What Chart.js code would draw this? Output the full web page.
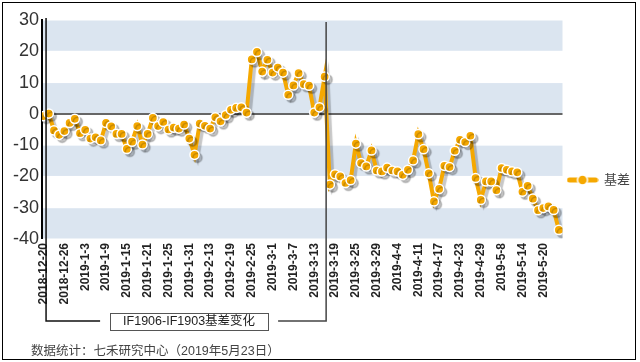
<!DOCTYPE html>
<html><head><meta charset="utf-8">
<style>html,body{margin:0;padding:0;background:#fff}#wrap{width:640px;height:362px}</style>
<script src="https://cdn.jsdelivr.net/npm/chart.js@4.4.0/dist/chart.umd.min.js"></script>
</head><body><div id="wrap"><canvas id="c" width="640" height="362"></canvas></div>
<script>
const dates = [
 '2018-12-20','2018-12-21','2018-12-24','2018-12-25','2018-12-26','2018-12-27','2018-12-28',
 '2019-1-2','2019-1-3','2019-1-4','2019-1-7','2019-1-8','2019-1-9','2019-1-10','2019-1-11','2019-1-14','2019-1-15','2019-1-16','2019-1-17','2019-1-18','2019-1-21','2019-1-22','2019-1-23','2019-1-24','2019-1-25','2019-1-28','2019-1-29','2019-1-30','2019-1-31',
 '2019-2-1','2019-2-11','2019-2-12','2019-2-13','2019-2-14','2019-2-15','2019-2-18','2019-2-19','2019-2-20','2019-2-21','2019-2-22','2019-2-25','2019-2-26','2019-2-27','2019-2-28',
 '2019-3-1','2019-3-4','2019-3-5','2019-3-6','2019-3-7','2019-3-8','2019-3-11','2019-3-12','2019-3-13','2019-3-14','2019-3-15','2019-3-18','2019-3-19','2019-3-20','2019-3-21','2019-3-22','2019-3-25','2019-3-26','2019-3-27','2019-3-28','2019-3-29',
 '2019-4-1','2019-4-2','2019-4-3','2019-4-4','2019-4-8','2019-4-9','2019-4-10','2019-4-11','2019-4-12','2019-4-15','2019-4-16','2019-4-17','2019-4-18','2019-4-19','2019-4-22','2019-4-23','2019-4-24','2019-4-25','2019-4-26','2019-4-29','2019-4-30',
 '2019-5-6','2019-5-7','2019-5-8','2019-5-9','2019-5-10','2019-5-13','2019-5-14','2019-5-15','2019-5-16','2019-5-17','2019-5-20','2019-5-21','2019-5-22','2019-5-23'
];
const basis = [
 -0.7,0.1,-5.3,-6.7,-5.5,-2.9,-1.6,-6.2,-5.1,-7.9,
 -7.5,-8.5,-2.9,-4.0,-6.4,-6.4,-11.2,-8.9,-3.9,-9.8,
 -6.4,-1.3,-3.9,-2.6,-5.0,-4.4,-4.7,-3.4,-7.9,-13.1,
 -3.1,-3.8,-4.7,-1.1,-2.4,-0.4,1.3,1.9,2.1,0.4,
 17.4,19.8,13.5,17.3,13.2,14.8,13.2,6.1,9.1,13.0,
 9.5,9.0,0.4,2.1,11.9,-22.6,-19.3,-20.0,-22.1,-21.2,
 -9.5,-15.7,-16.8,-11.7,-18.1,-18.4,-17.2,-18.1,-18.4,-19.5,
 -17.9,-14.9,-6.5,-11.3,-19.0,-28.0,-24.0,-16.6,-17.0,-11.8,
 -8.3,-9.0,-7.0,-20.5,-27.5,-21.6,-21.6,-24.4,-17.3,-17.9,
 -18.4,-18.7,-24.9,-23.0,-27.1,-30.8,-30.1,-29.6,-30.7,-37.1
];
const yTicks = [-40,-30,-20,-10,0,10,20,30];
const tickEvery = 4;
const seriesName = '基差';
const boxTitle = 'IF1906-IF1903基差变化';
const footnote = '数据统计：七禾研究中心（2019年5月23日）';
const bracketFrom = 0, bracketTo = 54;

const ORANGE = '#f5a800';
const BAND = '#dbe5f0';

// legend marker image: line + dot
const mk = document.createElement('canvas');
mk.width = 32; mk.height = 14;
(function(){
  const g = mk.getContext('2d');
  g.strokeStyle = ORANGE; g.lineWidth = 5; g.lineCap = 'round';
  g.beginPath(); g.moveTo(3,7); g.lineTo(29,7); g.stroke();
  g.beginPath(); g.arc(16,7,5,0,Math.PI*2); g.fillStyle = ORANGE; g.fill();
  g.lineWidth = 1.5; g.strokeStyle = '#fff'; g.stroke();
})();

const decor = {
  id: 'decor',
  beforeDraw(chart) {
    const {ctx, chartArea: a, scales: {y}} = chart;
    ctx.save();
    ctx.fillStyle = '#fff';
    ctx.fillRect(0, 0, chart.width, chart.height);
    ctx.fillStyle = BAND;
    for (let lo = yTicks[0]; lo < yTicks[yTicks.length-1]; lo += 20) {
      const t = y.getPixelForValue(lo + 10), b = y.getPixelForValue(lo);
      ctx.fillRect(a.left + 1, t + 0.5, a.right - a.left - 1, b - t - 1);
    }
    ctx.restore();
  },
  afterDraw(chart) {
    const {ctx, chartArea: a, scales: {x}} = chart;
    ctx.save();
    // outer frame
    ctx.strokeStyle = '#000'; ctx.lineWidth = 1;
    ctx.strokeRect(2.5, 2.5, 633, 357);
    // bracket
    const xL = x.getPixelForValue(bracketFrom) + 2.5;
    const xR = x.getPixelForValue(bracketTo) + 1.5;
    const yB = 321;
    const mid = (xL + xR) / 2 + 3;
    const bw = 158, bh = 17;
    ctx.lineWidth = 1.5;
    ctx.strokeStyle = '#111';
    ctx.beginPath(); ctx.moveTo(xL, a.top - 2); ctx.lineTo(xL, yB); ctx.lineTo(mid - bw/2 - 10, yB); ctx.stroke();
    ctx.strokeStyle = '#444';
    ctx.beginPath(); ctx.moveTo(xR, a.top + 2); ctx.lineTo(xR, yB); ctx.lineTo(mid + bw/2 + 10, yB); ctx.stroke();
    ctx.lineWidth = 1; ctx.strokeStyle = '#555';
    ctx.fillStyle = '#fff';
    ctx.fillRect(mid - bw/2, yB - bh/2, bw, bh);
    ctx.strokeRect(Math.round(mid - bw/2) + 0.5, Math.round(yB - bh/2) + 0.5, bw, bh);
    ctx.fillStyle = '#222';
    ctx.font = '12.5px "Liberation Sans", Arial, "Noto Sans CJK SC", sans-serif';
    ctx.textAlign = 'center'; ctx.textBaseline = 'middle';
    ctx.fillText(boxTitle, mid, yB + 1);
    // footnote
    ctx.fillStyle = '#444';
    ctx.font = '12.5px "Liberation Sans", Arial, "Noto Sans CJK SC", sans-serif';
    ctx.textAlign = 'left';
    ctx.fillText(footnote, 31, 352);
    ctx.restore();
  }
};

const shadow = {
  id: 'shadow',
  beforeDatasetsDraw(c) {
    const ctx = c.ctx; ctx.save();
    ctx.shadowColor = 'rgba(0,0,0,0.22)';
    ctx.shadowOffsetX = 3; ctx.shadowOffsetY = 3; ctx.shadowBlur = 1;
  },
  afterDatasetsDraw(c) { c.ctx.restore(); }
};

new Chart(document.getElementById('c'), {
  type: 'line',
  data: {
    datasets: [{
      label: seriesName,
      data: basis.map((v, i) => ({x: i, y: v})),
      borderColor: ORANGE,
      backgroundColor: ORANGE,
      borderWidth: 4,
      pointRadius: 4.6,
      pointBackgroundColor: ORANGE,
      pointBorderColor: '#fff',
      pointBorderWidth: 1.5,
      tension: 0,
      pointStyle: 'circle'
    }]
  },
  options: {
    responsive: false,
    animation: false,
    devicePixelRatio: 1,
    layout: {padding: {top: 20, left: 0, right: 0, bottom: 22}},
    plugins: {
      tooltip: {enabled: false},
      legend: {
        position: 'right',
        labels: {
          usePointStyle: true,
          pointStyleWidth: 30,
          padding: 5,
          color: '#444',
          font: {family: '"Liberation Sans", Arial, "Noto Sans CJK SC", sans-serif', size: 13},
          generateLabels: (chart) => [{
            text: seriesName, pointStyle: mk, fillStyle: ORANGE, strokeStyle: ORANGE,
            lineWidth: 0, hidden: false, datasetIndex: 0, fontColor: '#444'
          }]
        }
      }
    },
    scales: {
      x: {
        type: 'linear',
        min: -0.3, max: 99.7,
        afterBuildTicks: (s) => {
          s.ticks = dates.map((d, i) => i).filter(i => i % tickEvery === 0).map(v => ({value: v}));
        },
        afterFit: (s) => { s.height = 101; },
        grid: {display: false, drawTicks: false},
        border: {display: false},
        ticks: {
          autoSkip: false,
          maxRotation: 90, minRotation: 90,
          padding: 4,
          color: '#222',
          font: {family: '"Liberation Sans", Arial, sans-serif', size: 12, weight: 'bold'},
          callback: (v) => dates[v]
        }
      },
      y: {
        min: -40, max: 30,
        afterBuildTicks: (s) => { s.ticks = yTicks.map(v => ({value: v})); },
        afterFit: (s) => { s.width = 42; },
        grid: {
          drawTicks: false,
          color: (c) => c.tick && c.tick.value === 0 ? '#666' : 'rgba(0,0,0,0)',
          lineWidth: (c) => c.tick && c.tick.value === 0 ? 2 : 0
        },
        border: {display: true, color: '#000', width: 2},
        ticks: {
          padding: 3,
          color: '#333',
          font: {family: '"Liberation Sans", Arial, sans-serif', size: 18}
        }
      }
    }
  },
  plugins: [decor, shadow]
});
</script>
</body></html>
